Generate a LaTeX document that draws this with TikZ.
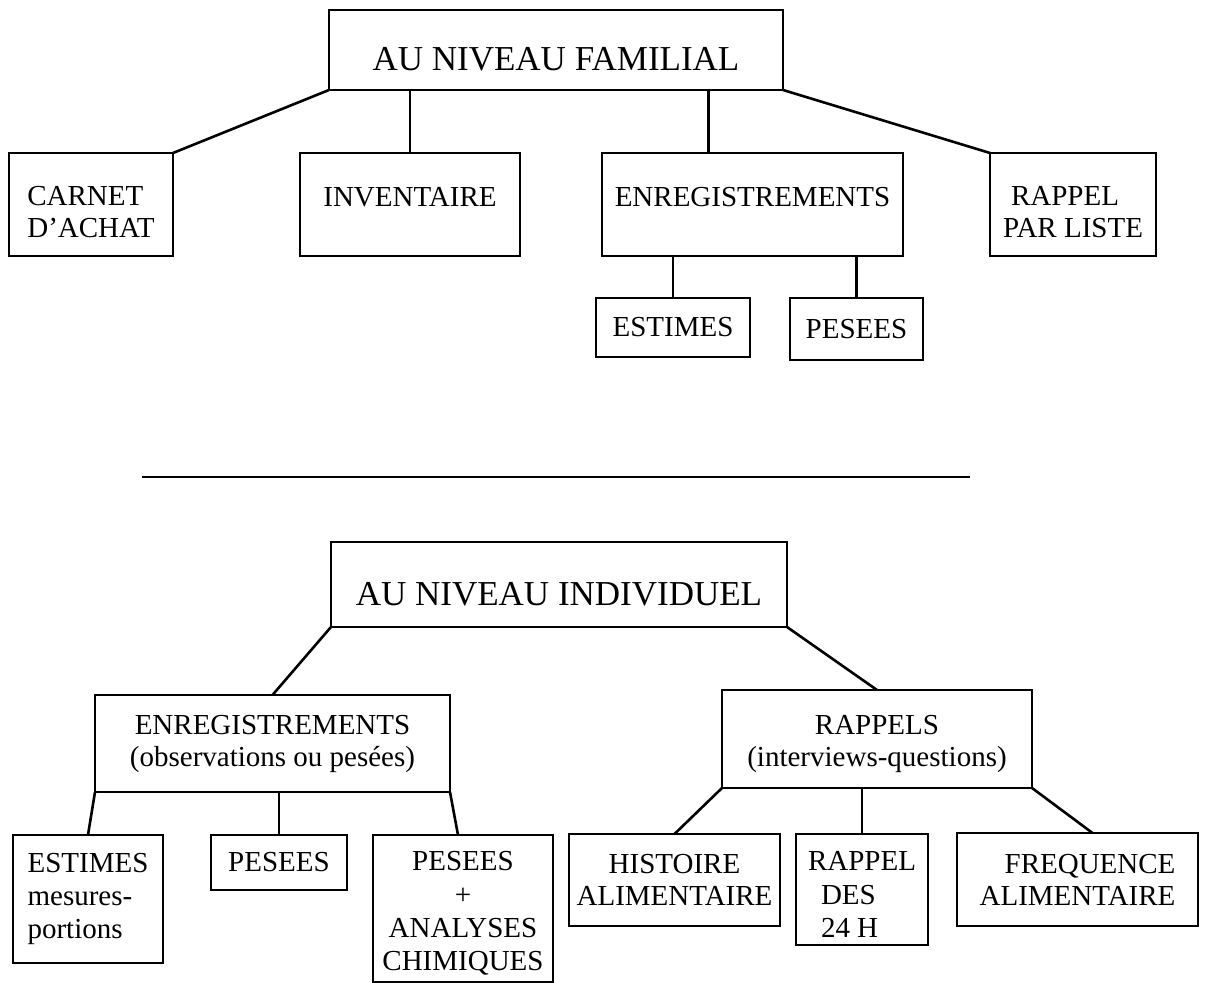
\documentclass[tikz,border=0pt]{standalone}
\usepackage{fontspec}
\setmainfont{Liberation Serif}

\begin{document}
\begin{tikzpicture}[x=0.5pt,y=-0.5pt,
    box/.style={draw=black, line width=1.3pt, inner sep=0pt, outer sep=0pt,
                font=\fontsize{14.5}{16}\selectfont, align=center},
    upbox/.style={box, text height=33.6pt, minimum height=51.5pt},
    titlebox/.style={box, font=\fontsize{17.5}{20}\selectfont, text height=21pt},
    link/.style={draw=black, line width=1.3pt}]
\useasboundingbox (0,0) rectangle (1205,983);
%top half:
\node[titlebox, minimum width=227pt, minimum height=40pt] (fam) at (556,50) {AU NIVEAU FAMILIAL};
\node[upbox, align=left, minimum width=82pt] (carnet) at (91,204.5) {CARNET\\D'ACHAT};
\node[upbox, minimum width=110pt] (inv) at (410,204.5) {INVENTAIRE\\\phantom{X}};
\node[upbox, minimum width=150.5pt] (enr) at (752.5,204.5) {ENREGISTREMENTS\\\phantom{X}};
\node[upbox, align=left, minimum width=83pt] (rap) at (1073,204.5) {\hspace{4pt}RAPPEL\\PAR LISTE};
\node[box, minimum width=77pt, minimum height=29.5pt] (est) at (673,327.5) {ESTIMES};
\node[box, minimum width=66.5pt, minimum height=31pt] (pes) at (856.5,329) {PESEES};
\coordinate (enrtop) at ([xshift=-22pt]enr.north);
\draw[link] (fam.south west) -- (carnet.north east);
\draw[link] (inv.north |- fam.south) -- (inv.north);
\draw[link] (enrtop |- fam.south) -- (enrtop);
\draw[link] (fam.south east) -- (rap.north west);
\draw[link] (est.north |- enr.south) -- (est.north);
\draw[link] (pes.north |- enr.south) -- (pes.north);
%separator
\draw[link] (142,477) -- (970,477);
%bottom half:
\node[titlebox, minimum width=228pt, minimum height=42.5pt] (ind) at (559,584.5) {AU NIVEAU INDIVIDUEL};
\node[box, minimum width=177.5pt, minimum height=48.5pt] (enr2) at (272.5,743.5) {ENREGISTREMENTS\\(observations ou pesées)};
\node[box, minimum width=155pt, minimum height=49pt, text height=30.6pt] (rap2) at (877,739) {RAPPELS\\(interviews-questions)};
\node[box, align=left, minimum width=75pt, minimum height=64pt, font=\fontsize{14.5}{16.7}\selectfont] (est2) at (88,899) {ESTIMES\\mesures-\\portions};
\node[box, minimum width=68pt, minimum height=27.5pt] (pes2) at (279,862.5) {PESEES};
\node[box, minimum width=90pt, minimum height=73.5pt, text height=64.7pt, font=\fontsize{14.5}{16.7}\selectfont] (ana) at (463,908.5) {PESEES\\+\\ANALYSES\\CHIMIQUES};
\node[box, minimum width=105.5pt, minimum height=46pt] (hist) at (674.5,880) {HISTOIRE\\ALIMENTAIRE};
\node[box, align=left, minimum width=66pt, minimum height=55.5pt, text height=48pt, font=\fontsize{14.5}{16.7}\selectfont] (h24) at (862,889.5) {RAPPEL\\\hspace{6.5pt}DES\\\hspace{6.5pt}24 H};
\node[box, align=right, minimum width=120.5pt, minimum height=46.5pt] (freq) at (1077.5,879.5) {FREQUENCE\\ALIMENTAIRE};
\draw[link] (ind.south west) -- (enr2.north);
\draw[link] (ind.south east) -- (rap2.north);
\draw[link] (enr2.south west) -- (est2.north);
\draw[link] (pes2.north |- enr2.south) -- (pes2.north);
\draw[link] (enr2.south east) -- ([xshift=-2.5pt]ana.north);
\draw[link] (rap2.south west) -- (hist.north);
\draw[link] (h24.north |- rap2.south) -- (h24.north);
\draw[link] (rap2.south east) -- ([xshift=7.5pt]freq.north);
\end{tikzpicture}
\end{document}
